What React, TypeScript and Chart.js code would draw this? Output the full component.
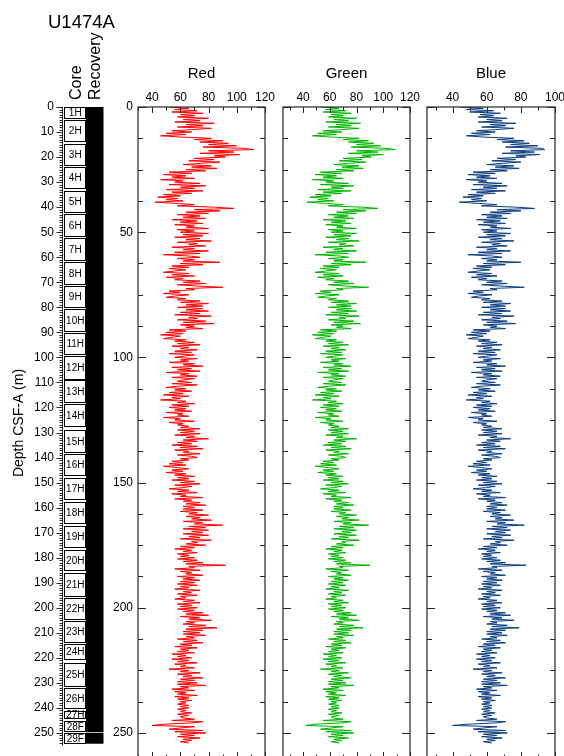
import { useEffect, useRef } from "react";
import { Chart, registerables } from "chart.js";

Chart.register(...registerables);

// Colour reflectance logs (RGB channels) for Hole U1474A, one sample every 0.5 m.
const DEPTH_START = 0;
const DEPTH_STEP = 0.5;

const RED = [
  52, 66, 56, 72, 54, 76, 60, 70, 58, 80, 62, 74, 56, 84, 64, 76, 58, 82, 70, 54,
  68, 50, 64, 46, 60, 82, 70, 90, 74, 94, 80, 100, 76, 104, 112, 80, 98, 74, 102, 84,
  92, 70, 84, 66, 88, 74, 62, 82, 68, 86, 64, 78, 52, 68, 48, 64, 54, 70, 46, 62,
  56, 74, 52, 78, 60, 70, 50, 76, 54, 68, 48, 60, 44, 58, 50, 62, 42, 56, 70, 58,
  84, 98, 70, 88, 64, 80, 58, 74, 62, 78, 54, 72, 60, 76, 56, 70, 64, 80, 58, 70,
  60, 80, 62, 76, 56, 74, 64, 82, 58, 72, 66, 78, 54, 70, 62, 80, 56, 74, 48, 66,
  74, 58, 70, 62, 88, 60, 76, 54, 66, 52, 64, 56, 48, 66, 54, 70, 50, 62, 56, 74,
  62, 78, 58, 72, 90, 64, 70, 52, 60, 48, 66, 56, 50, 64, 58, 74, 60, 80, 64, 76,
  58, 76, 64, 80, 60, 74, 56, 82, 66, 72, 58, 78, 62, 84, 60, 70, 64, 76, 52, 64,
  50, 62, 46, 60, 54, 48, 64, 56, 70, 58, 74, 54, 66, 60, 72, 56, 68, 52, 70, 62,
  56, 72, 60, 66, 52, 70, 62, 76, 54, 68, 58, 74, 50, 66, 60, 72, 54, 70, 62, 58,
  68, 54, 72, 58, 50, 64, 56, 68, 52, 62, 48, 66, 54, 60, 46, 64, 58, 70, 54, 66,
  52, 64, 56, 68, 50, 62, 58, 66, 48, 60, 56, 70, 52, 62, 58, 66, 60, 74, 58, 70,
  60, 74, 56, 70, 64, 80, 62, 72, 58, 68, 54, 72, 60, 76, 56, 66, 62, 74, 58, 68,
  72, 60, 66, 54, 62, 52, 64, 48, 58, 66, 54, 62, 50, 64, 56, 70, 58, 66, 54, 70,
  60, 74, 56, 68, 62, 52, 66, 58, 72, 54, 64, 60, 76, 56, 68, 62, 74, 64, 78, 62,
  70, 62, 76, 60, 72, 66, 80, 64, 74, 68, 82, 62, 76, 70, 90, 66, 78, 62, 80, 68,
  76, 62, 80, 66, 74, 60, 82, 68, 72, 64, 78, 60, 70, 56, 68, 62, 72, 58, 66, 60,
  70, 58, 72, 62, 76, 64, 92, 66, 70, 56, 74, 60, 68, 64, 76, 58, 70, 62, 74, 60,
  70, 58, 72, 60, 66, 56, 74, 62, 68, 58, 72, 60, 64, 56, 70, 62, 74, 58, 68, 60,
  72, 58, 70, 62, 76, 64, 80, 60, 74, 66, 82, 64, 70, 62, 78, 66, 86, 64, 76, 62,
  74, 62, 78, 64, 70, 58, 72, 62, 76, 60, 68, 56, 72, 60, 66, 58, 70, 54, 64, 58,
  68, 54, 66, 58, 72, 56, 64, 60, 70, 52, 66, 60, 74, 58, 68, 62, 76, 60, 70, 58,
  72, 58, 78, 60, 66, 54, 70, 56, 64, 58, 72, 56, 66, 58, 68, 60, 64, 58, 66, 60,
  66, 58, 64, 60, 68, 58, 66, 60, 62, 70, 54, 76, 68, 48, 40, 70, 60, 52, 76, 56,
  78, 60, 70, 58, 74, 62, 68, 60, 66,
];

const GREEN = [
  53, 67, 57, 72, 55, 76, 61, 70, 59, 80, 63, 74, 57, 83, 65, 76, 59, 82, 70, 55,
  69, 51, 65, 47, 61, 82, 70, 89, 74, 93, 80, 98, 76, 102, 109, 80, 96, 74, 100, 84,
  91, 70, 84, 67, 87, 74, 63, 82, 69, 85, 65, 78, 53, 69, 49, 65, 55, 70, 47, 63,
  57, 74, 53, 78, 61, 70, 51, 76, 55, 69, 49, 61, 45, 59, 51, 63, 43, 57, 70, 59,
  84, 96, 70, 87, 65, 80, 59, 74, 63, 78, 55, 72, 61, 76, 57, 70, 65, 80, 59, 70,
  61, 80, 63, 76, 57, 74, 65, 82, 59, 72, 67, 78, 55, 70, 63, 80, 57, 74, 49, 67,
  74, 59, 70, 63, 87, 61, 76, 55, 67, 53, 65, 57, 49, 67, 55, 70, 51, 63, 57, 74,
  63, 78, 59, 72, 89, 65, 70, 53, 61, 49, 67, 57, 51, 65, 59, 74, 61, 80, 65, 76,
  59, 76, 65, 80, 61, 74, 57, 82, 67, 72, 59, 78, 63, 83, 61, 70, 65, 76, 53, 65,
  51, 63, 47, 61, 55, 49, 65, 57, 70, 59, 74, 55, 67, 61, 72, 57, 69, 53, 70, 63,
  57, 72, 61, 67, 53, 70, 63, 76, 55, 69, 59, 74, 51, 67, 61, 72, 55, 70, 63, 59,
  69, 55, 72, 59, 51, 65, 57, 69, 53, 63, 49, 67, 55, 61, 47, 65, 59, 70, 55, 67,
  53, 65, 57, 69, 51, 63, 59, 67, 49, 61, 57, 70, 53, 63, 59, 67, 61, 74, 59, 70,
  61, 74, 57, 70, 65, 80, 63, 72, 59, 69, 55, 72, 61, 76, 57, 67, 63, 74, 59, 69,
  72, 61, 67, 55, 63, 53, 65, 49, 59, 67, 55, 63, 51, 65, 57, 70, 59, 67, 55, 70,
  61, 74, 57, 69, 63, 53, 67, 59, 72, 55, 65, 61, 76, 57, 69, 63, 74, 65, 78, 63,
  70, 63, 76, 61, 72, 67, 80, 65, 74, 69, 82, 63, 76, 70, 89, 67, 78, 63, 80, 69,
  76, 63, 80, 67, 74, 61, 82, 69, 72, 65, 78, 61, 70, 57, 69, 63, 72, 59, 67, 61,
  70, 59, 72, 63, 76, 65, 90, 67, 70, 57, 74, 61, 69, 65, 76, 59, 70, 63, 74, 61,
  70, 59, 72, 61, 67, 57, 74, 63, 69, 59, 72, 61, 65, 57, 70, 63, 74, 59, 69, 61,
  72, 59, 70, 63, 76, 65, 80, 61, 74, 67, 82, 65, 70, 63, 78, 67, 85, 65, 76, 63,
  74, 63, 78, 65, 70, 59, 72, 63, 76, 61, 69, 57, 72, 61, 67, 59, 70, 55, 65, 59,
  69, 55, 67, 59, 72, 57, 65, 61, 70, 53, 67, 61, 74, 59, 69, 63, 76, 61, 70, 59,
  72, 59, 78, 61, 67, 55, 70, 57, 65, 59, 72, 57, 67, 59, 69, 61, 65, 59, 67, 61,
  67, 59, 65, 61, 69, 59, 67, 61, 63, 70, 55, 76, 69, 49, 42, 70, 61, 53, 76, 57,
  78, 61, 70, 59, 74, 63, 69, 61, 67,
];

const BLUE = [
  44, 58, 48, 64, 50, 68, 56, 64, 55, 72, 60, 69, 55, 77, 62, 71, 57, 76, 66, 54,
  65, 51, 62, 48, 58, 76, 66, 82, 69, 85, 74, 90, 71, 92, 94, 74, 88, 69, 91, 77,
  83, 66, 77, 63, 80, 69, 60, 76, 65, 79, 62, 72, 52, 65, 49, 62, 54, 66, 48, 60,
  55, 69, 52, 72, 58, 66, 51, 71, 54, 65, 49, 58, 46, 57, 51, 60, 44, 55, 66, 57,
  77, 88, 66, 80, 62, 74, 57, 69, 60, 72, 54, 68, 58, 71, 55, 66, 62, 74, 57, 66,
  58, 74, 60, 71, 55, 69, 62, 76, 57, 68, 63, 72, 54, 66, 60, 74, 55, 69, 49, 63,
  69, 57, 66, 60, 80, 58, 71, 54, 63, 52, 62, 55, 49, 63, 54, 66, 51, 60, 55, 69,
  60, 72, 57, 68, 82, 62, 66, 52, 58, 49, 63, 55, 51, 62, 57, 69, 58, 74, 62, 71,
  57, 71, 62, 74, 58, 69, 55, 76, 63, 68, 57, 72, 60, 77, 58, 66, 62, 71, 52, 62,
  51, 60, 48, 58, 54, 49, 62, 55, 66, 57, 69, 54, 63, 58, 68, 55, 65, 52, 66, 60,
  55, 68, 58, 63, 52, 66, 60, 71, 54, 65, 57, 69, 51, 63, 58, 68, 54, 66, 60, 57,
  65, 54, 68, 57, 51, 62, 55, 65, 52, 60, 49, 63, 54, 58, 48, 62, 57, 66, 54, 63,
  52, 62, 55, 65, 51, 60, 57, 63, 49, 58, 55, 66, 52, 60, 57, 63, 58, 69, 57, 66,
  58, 69, 55, 66, 62, 74, 60, 68, 57, 65, 54, 68, 58, 71, 55, 63, 60, 69, 57, 65,
  68, 58, 63, 54, 60, 52, 62, 49, 57, 63, 54, 60, 51, 62, 55, 66, 57, 63, 54, 66,
  58, 69, 55, 65, 60, 52, 63, 57, 68, 54, 62, 58, 71, 55, 65, 60, 69, 62, 72, 60,
  66, 60, 71, 58, 68, 63, 74, 62, 69, 65, 76, 60, 71, 66, 82, 63, 72, 60, 74, 65,
  71, 60, 74, 63, 69, 58, 76, 65, 68, 62, 72, 58, 66, 55, 65, 60, 68, 57, 63, 58,
  66, 57, 68, 60, 71, 62, 83, 63, 66, 55, 69, 58, 65, 62, 71, 57, 66, 60, 69, 58,
  66, 57, 68, 58, 63, 55, 69, 60, 65, 57, 68, 58, 62, 55, 66, 60, 69, 57, 65, 58,
  68, 57, 66, 60, 71, 62, 74, 58, 69, 63, 76, 62, 66, 60, 72, 63, 79, 62, 71, 60,
  69, 60, 72, 62, 66, 57, 68, 60, 71, 58, 65, 55, 68, 58, 63, 57, 66, 54, 62, 57,
  65, 54, 63, 57, 68, 55, 62, 58, 66, 52, 63, 58, 69, 57, 65, 60, 71, 58, 66, 57,
  68, 57, 72, 58, 63, 54, 66, 55, 62, 57, 68, 55, 63, 57, 65, 58, 62, 57, 63, 58,
  63, 57, 62, 58, 65, 57, 63, 58, 60, 66, 54, 71, 65, 49, 40, 66, 58, 52, 71, 55,
  72, 58, 66, 57, 69, 60, 65, 58, 63,
];

// Cored intervals (m CSF-A) and recovered intervals.
const CORE_NAMES = [
  "1H", "2H", "3H", "4H", "5H", "6H", "7H", "8H", "9H", "10H",
  "11H", "12H", "13H", "14H", "15H", "16H", "17H", "18H", "19H", "20H",
  "21H", "22H", "23H", "24H", "25H", "26H", "27H", "28F", "29F",
];
const CORE_TOP = [
  0, 5.3, 14.6, 24.0, 33.4, 42.9, 52.5, 62.0, 71.5, 80.8,
  90.4, 99.6, 109.2, 118.8, 129.0, 138.6, 148.1, 157.6, 167.3, 176.9,
  186.2, 195.9, 205.3, 214.6, 222.2, 231.9, 241.1, 245.1, 249.9,
];
const CORE_BOTTOM = [
  4.9, 14.1, 23.4, 32.9, 42.5, 51.9, 61.5, 70.9, 80.2, 89.7,
  99.2, 108.9, 118.3, 127.8, 138.0, 147.4, 157.0, 166.5, 176.2, 185.5,
  195.5, 204.8, 214.2, 220.9, 231.5, 240.5, 244.6, 249.5, 254.4,
];
const RECOVERY_TOP = [0, 249.9];
const RECOVERY_BOTTOM = [249.6, 254.3];

// Axis ticks and labels.
const DEPTH_MIN = 0;
const DEPTH_MAX = 260;
const CORE_DEPTH_LABELS = [
  0, 10, 20, 30, 40, 50, 60, 70, 80, 90, 100, 110, 120, 130,
  140, 150, 160, 170, 180, 190, 200, 210, 220, 230, 240, 250,
];
const PANEL_DEPTH_LABELS = [0, 50, 100, 150, 200, 250];
const PANEL_DEPTH_TICK_STEP = 12.5;
const RED_TICK_LABELS = [40, 60, 80, 100, 120];
const GREEN_TICK_LABELS = [40, 60, 80, 100, 120];
const BLUE_TICK_LABELS = [40, 60, 80, 100];
const VALUE_TICK_STEP = 10;

const FONT = '"Liberation Sans", Arial, Helvetica, sans-serif';
const CANVAS_W = 564;
const CANVAS_H = 770;
const PLOT_TOP = 107;
const PLOT_BOTTOM = 758;
const AXIS_COLOR = "#262626";

type Panel = {
  title: string;
  values: number[];
  color: string;
  min: number;
  max: number;
  labels: number[];
  left: number;
  right: number;
  depthLabels: boolean;
};

const PANELS: Panel[] = [
  { title: "Red", values: RED, color: "#ff0000", min: 30, max: 120, labels: RED_TICK_LABELS, left: 138, right: 265, depthLabels: true },
  { title: "Green", values: GREEN, color: "#00b400", min: 25, max: 120, labels: GREEN_TICK_LABELS, left: 283, right: 410, depthLabels: false },
  { title: "Blue", values: BLUE, color: "#0b3d80", min: 25, max: 100, labels: BLUE_TICK_LABELS, left: 427, right: 555, depthLabels: false },
];

const panelFrame = {
  id: "panelFrame",
  afterDatasetsDraw(chart: any, _args: any, opts: any) {
    const ctx: CanvasRenderingContext2D = chart.ctx;
    const { left, right, top, bottom } = chart.chartArea;
    const xs = chart.scales.x;
    const ys = chart.scales.y;
    const p: Panel = opts.panel;
    ctx.save();
    ctx.strokeStyle = AXIS_COLOR;
    ctx.lineWidth = 1.2;
    ctx.strokeRect(left, top, right - left, bottom - top);

    // value ticks on top and bottom edges
    ctx.lineWidth = 1;
    for (let v = Math.ceil(p.min / VALUE_TICK_STEP) * VALUE_TICK_STEP; v <= p.max; v += VALUE_TICK_STEP) {
      const x = Math.round(xs.getPixelForValue(v)) + 0.5;
      const len = p.labels.includes(v) ? 6 : 3.5;
      ctx.beginPath();
      ctx.moveTo(x, top);
      ctx.lineTo(x, top + len);
      ctx.moveTo(x, bottom);
      ctx.lineTo(x, bottom - len);
      ctx.stroke();
    }
    // depth ticks on both sides
    for (let d = DEPTH_MIN; d <= DEPTH_MAX; d += PANEL_DEPTH_TICK_STEP) {
      const y = Math.round(ys.getPixelForValue(d)) + 0.5;
      const len = PANEL_DEPTH_LABELS.includes(d) ? 8 : 5;
      ctx.beginPath();
      ctx.moveTo(left, y);
      ctx.lineTo(left + len, y);
      ctx.moveTo(right, y);
      ctx.lineTo(right - len, y);
      ctx.stroke();
    }

    ctx.fillStyle = "#000";
    ctx.font = `12px ${FONT}`;
    ctx.textAlign = "center";
    ctx.textBaseline = "alphabetic";
    p.labels.forEach((v) => ctx.fillText(String(v), xs.getPixelForValue(v), 101));

    ctx.font = `15px ${FONT}`;
    ctx.fillText(p.title, (left + right) / 2, 78);

    if (p.depthLabels) {
      ctx.font = `12px ${FONT}`;
      ctx.textAlign = "right";
      ctx.textBaseline = "middle";
      PANEL_DEPTH_LABELS.forEach((d) => ctx.fillText(String(d), left - 5, ys.getPixelForValue(d)));
    }
    ctx.restore();
  },
};

const coreColumn = {
  id: "coreColumn",
  afterDraw(chart: any) {
    const ctx: CanvasRenderingContext2D = chart.ctx;
    const { left, right } = chart.chartArea;
    const xs = chart.scales.x;
    const ys = chart.scales.y;
    const split = xs.getPixelForValue(0.5625);
    const axisX = left - 1.5;
    ctx.save();

    // recovery column
    ctx.fillStyle = "#000";
    RECOVERY_TOP.forEach((t, i) => {
      const y1 = ys.getPixelForValue(t);
      const y2 = ys.getPixelForValue(RECOVERY_BOTTOM[i]);
      ctx.fillRect(split, y1, right - split, y2 - y1);
    });

    // core boxes
    ctx.strokeStyle = "#000";
    ctx.lineWidth = 1;
    ctx.font = `10px ${FONT}`;
    ctx.textAlign = "center";
    ctx.textBaseline = "middle";
    CORE_NAMES.forEach((name, i) => {
      const y1 = Math.round(ys.getPixelForValue(CORE_TOP[i])) + 0.5;
      const y2 = Math.round(ys.getPixelForValue(CORE_BOTTOM[i])) - 0.5;
      ctx.fillStyle = "#fff";
      ctx.fillRect(left, y1, split - left, y2 - y1);
      ctx.strokeRect(Math.round(left) + 0.5, y1, Math.round(split) - Math.round(left) - 1, y2 - y1);
      ctx.fillStyle = "#000";
      ctx.fillText(name, (left + split) / 2 + 0.5, (y1 + y2) / 2 + 0.5);
    });

    // depth axis
    ctx.strokeStyle = AXIS_COLOR;
    ctx.beginPath();
    ctx.moveTo(Math.round(axisX) + 0.5, ys.getPixelForValue(0));
    ctx.lineTo(Math.round(axisX) + 0.5, ys.getPixelForValue(255));
    for (let d = 0; d <= 254; d += 1) {
      const y = Math.round(ys.getPixelForValue(d)) + 0.5;
      const len = CORE_DEPTH_LABELS.includes(d) ? 6 : 3;
      ctx.moveTo(Math.round(axisX) + 0.5, y);
      ctx.lineTo(Math.round(axisX) + 0.5 - len, y);
    }
    ctx.stroke();

    ctx.fillStyle = "#000";
    ctx.font = `12px ${FONT}`;
    ctx.textAlign = "right";
    CORE_DEPTH_LABELS.forEach((d) => ctx.fillText(String(d), axisX - 8, ys.getPixelForValue(d)));

    // titles
    ctx.textAlign = "left";
    ctx.textBaseline = "alphabetic";
    ctx.font = `18.5px ${FONT}`;
    ctx.fillText("U1474A", 48, 27.5);

    ctx.font = `16px ${FONT}`;
    ctx.save();
    ctx.translate(80.5, 100);
    ctx.rotate(-Math.PI / 2);
    ctx.fillText("Core", 0, 0);
    ctx.restore();
    ctx.save();
    ctx.translate(100, 100);
    ctx.rotate(-Math.PI / 2);
    ctx.fillText("Recovery", 0, 0);
    ctx.restore();

    ctx.font = `14px ${FONT}`;
    ctx.save();
    ctx.translate(23, 423);
    ctx.rotate(-Math.PI / 2);
    ctx.textAlign = "center";
    ctx.fillText("Depth CSF-A (m)", 0, 0);
    ctx.restore();

    ctx.restore();
  },
};

function baseOptions(left: number, right: number, xMin: number, xMax: number) {
  return {
    responsive: false,
    animation: false as const,
    events: [],
    layout: {
      padding: { left, right: CANVAS_W - right, top: PLOT_TOP, bottom: CANVAS_H - PLOT_BOTTOM },
    },
    scales: {
      x: { type: "linear" as const, min: xMin, max: xMax, display: false },
      y: { type: "linear" as const, min: DEPTH_MIN, max: DEPTH_MAX, reverse: true, display: false },
    },
  };
}

export default function App() {
  const coreRef = useRef<HTMLCanvasElement>(null);
  const redRef = useRef<HTMLCanvasElement>(null);
  const greenRef = useRef<HTMLCanvasElement>(null);
  const blueRef = useRef<HTMLCanvasElement>(null);

  useEffect(() => {
    const charts: Chart[] = [];
    charts.push(
      new Chart(coreRef.current as HTMLCanvasElement, {
        type: "scatter",
        data: { datasets: [] },
        options: {
          ...baseOptions(63.5, 103.5, 0, 1),
          plugins: { legend: { display: false }, tooltip: { enabled: false } },
        } as any,
        plugins: [coreColumn],
      })
    );
    const refs = [redRef, greenRef, blueRef];
    PANELS.forEach((p, i) => {
      const points = p.values.map((v, k) => ({ x: v, y: DEPTH_START + k * DEPTH_STEP }));
      charts.push(
        new Chart(refs[i].current as HTMLCanvasElement, {
          type: "scatter",
          data: {
            datasets: [
              {
                data: points,
                showLine: true,
                borderColor: p.color,
                borderWidth: 1,
                pointRadius: 0,
                pointHoverRadius: 0,
                fill: false,
                tension: 0,
              },
            ],
          },
          options: {
            ...baseOptions(p.left, p.right, p.min, p.max),
            plugins: {
              legend: { display: false },
              tooltip: { enabled: false },
              panelFrame: { panel: p },
            },
          } as any,
          plugins: [panelFrame],
        })
      );
    });
    return () => charts.forEach((c) => c.destroy());
  }, []);

  const canvasStyle = { position: "absolute" as const, left: 0, top: 0 };
  return (
    <div style={{ position: "fixed", left: 0, top: 0, width: CANVAS_W, height: 756, overflow: "hidden", background: "#fff" }}>
      <canvas ref={coreRef} width={CANVAS_W} height={CANVAS_H} style={canvasStyle} />
      <canvas ref={redRef} width={CANVAS_W} height={CANVAS_H} style={canvasStyle} />
      <canvas ref={greenRef} width={CANVAS_W} height={CANVAS_H} style={canvasStyle} />
      <canvas ref={blueRef} width={CANVAS_W} height={CANVAS_H} style={canvasStyle} />
    </div>
  );
}
